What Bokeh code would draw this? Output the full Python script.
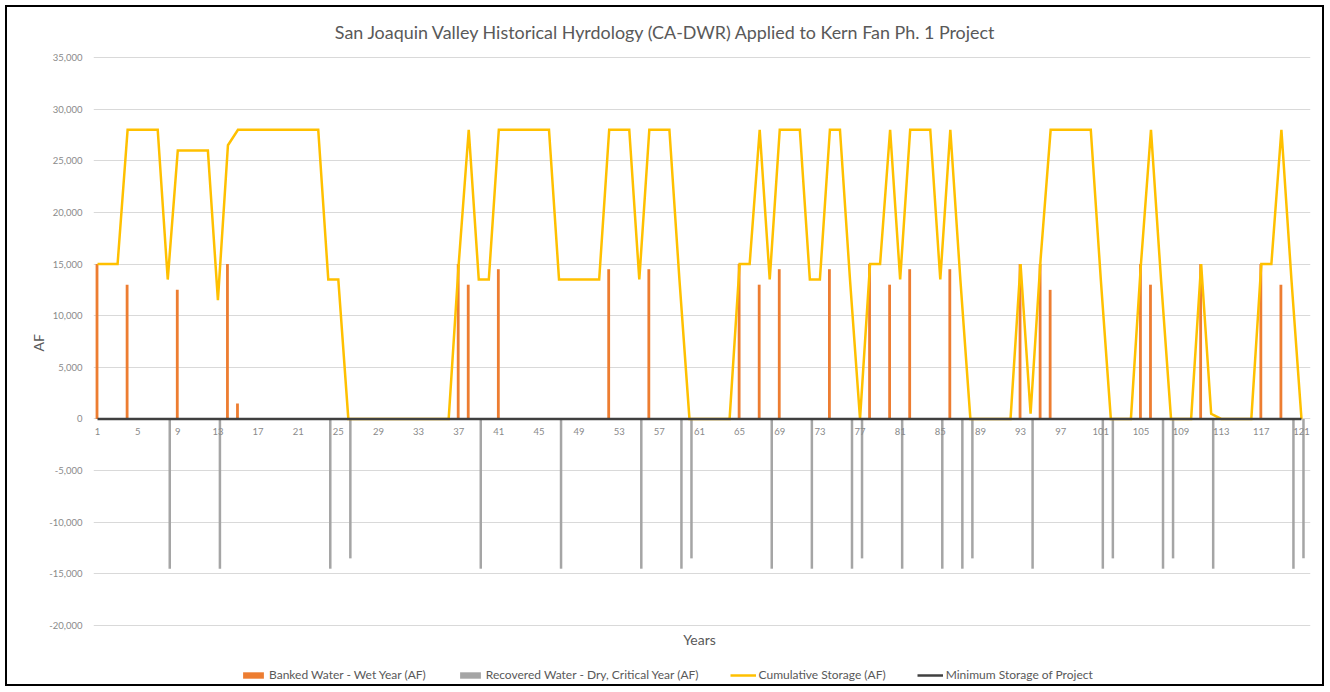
from bokeh.plotting import figure
from bokeh.models import (FixedTicker, NumeralTickFormatter, Legend, LegendItem,
                          ColumnDataSource, Title, Label)
from bokeh.core.properties import value
from bokeh.transform import dodge
from bokeh.embed import file_html
from bokeh.resources import INLINE

# ---------------- data ----------------
years = list(range(1, 122))

banked_years = [1, 4, 9, 14, 15, 37, 38, 41, 52, 56, 65, 67, 69, 74, 78, 80,
                82, 86, 93, 95, 96, 105, 106, 111, 117, 119]
banked_af = [15000, 13000, 12500, 15000, 1500, 15000, 13000, 14500, 14500,
             14500, 15000, 13000, 14500, 14500, 15000, 13000, 14500, 14500,
             15000, 15000, 12500, 15000, 13000, 15000, 15000, 13000]

recovered_years = [8, 13, 24, 26, 39, 47, 55, 59, 60, 68, 72, 76, 77, 81, 85,
                   87, 88, 94, 101, 102, 107, 108, 112, 120, 121]
recovered_af = [-14500, -14500, -14500, -13500, -14500, -14500, -14500,
                -14500, -13500, -14500, -14500, -14500, -13500, -14500,
                -14500, -14500, -13500, -14500, -14500, -13500, -14500,
                -13500, -14500, -14500, -13500]

storage_af = [
    15000, 15000, 15000, 28000, 28000, 28000, 28000, 13500, 26000, 26000,   # 1-10
    26000, 26000, 11500, 26500, 28000, 28000, 28000, 28000, 28000, 28000,   # 11-20
    28000, 28000, 28000, 13500, 13500, 0, 0, 0, 0, 0,                       # 21-30
    0, 0, 0, 0, 0, 0, 15000, 28000, 13500, 13500,                           # 31-40
    28000, 28000, 28000, 28000, 28000, 28000, 13500, 13500, 13500, 13500,   # 41-50
    13500, 28000, 28000, 28000, 13500, 28000, 28000, 28000, 13500, 0,       # 51-60
    0, 0, 0, 0, 15000, 15000, 28000, 13500, 28000, 28000,                   # 61-70
    28000, 13500, 13500, 28000, 28000, 13500, 0, 15000, 15000, 28000,       # 71-80
    13500, 28000, 28000, 28000, 13500, 28000, 13500, 0, 0, 0,               # 81-90
    0, 0, 15000, 500, 15500, 28000, 28000, 28000, 28000, 28000,             # 91-100
    13500, 0, 0, 0, 15000, 28000, 13500, 0, 0, 0,                           # 101-110
    15000, 500, 0, 0, 0, 0, 15000, 15000, 28000, 13500,                     # 111-120
    0,                                                                      # 121
]

min_storage_years = [1, 121]
min_storage_af = [0, 0]

x_tick_years = list(range(1, 122, 4))
x_tick_labels = [str(y) for y in x_tick_years]
y_ticks = list(range(-20000, 35001, 5000))

title_text = "San Joaquin Valley Historical Hyrdology (CA-DWR) Applied to Kern Fan Ph. 1 Project"

# ---------------- figure ----------------
FONT = "Lato"
TXT = "#595959"
TICK = "#8A8A8A"

# the plot frame covers the whole chart height so that the chart title, the
# axis title and the legend can sit above / below the gridded area
p = figure(width=1319, height=681, x_range=(0.6, 121.9), y_range=(-26100, 39840),
           output_backend="svg", toolbar_location=None,
           min_border_left=86, min_border_right=16, min_border_top=0,
           min_border_bottom=0)
p.styles = {"border": "2px solid #000000", "margin": "5px 0 0 5px"}
p.outline_line_color = None
p.background_fill_color = "white"
p.border_fill_color = "white"
p.title.text = ""
p.title.visible = False

# y axis
yax = p.yaxis[0]
yax.ticker = FixedTicker(ticks=y_ticks)
yax.formatter = NumeralTickFormatter(format="0,0")
yax.axis_line_color = None
yax.major_tick_line_color = None
yax.minor_tick_line_color = None
yax.major_tick_out = 0
yax.major_tick_in = 0
yax.major_label_standoff = 11
yax.major_label_text_font = FONT
yax.major_label_text_font_size = "9.5px"
yax.major_label_text_color = TICK

af_title = Title(text="AF", align="left", offset=337, text_font=FONT,
                 text_font_size="14px", text_font_style="normal",
                 text_color=TXT, standoff=0)
p.add_layout(af_title, "left")

p.xaxis.visible = False

# grid
p.xgrid.visible = False
p.ygrid.ticker = FixedTicker(ticks=y_ticks)
p.ygrid.grid_line_color = "#D9D9D9"
p.ygrid.grid_line_width = 1

# ---------------- glyphs ----------------
src_b = ColumnDataSource(dict(year=banked_years, af=banked_af))
src_r = ColumnDataSource(dict(year=recovered_years, af=recovered_af))

r_bank = p.vbar(x=dodge("year", -0.05), top="af", bottom=0, width=0.28,
                source=src_b, fill_color="#ED7D31", line_color=None)
r_rec = p.vbar(x=dodge("year", 0.2), top=0, bottom="af", width=0.25,
               source=src_r, fill_color="#A5A5A5", line_color=None)
r_sto = p.line(years, storage_af, line_color="#FFC000", line_width=2.5,
               line_join="miter")
r_min = p.line(min_storage_years, min_storage_af, line_color="#404040",
               line_width=2.5)

# category labels along the zero line (horizontal axis crosses at 0)
src_t = ColumnDataSource(dict(x=x_tick_years, y=[0] * len(x_tick_years),
                              t=x_tick_labels))
p.text(x="x", y="y", text="t", source=src_t, text_font=value(FONT),
       text_font_size="9.5px", text_color=TICK, text_align="center",
       text_baseline="top", y_offset=9)

# chart title
chart_title = Label(x=57.66, y=37500, text=title_text, text_align="center",
                    text_baseline="middle", text_font=FONT,
                    text_font_size="17.9px", text_color=TXT)
p.add_layout(chart_title)

# horizontal axis title
years_title = Label(x=61, y=-21350, text="Years", text_align="center",
                    text_baseline="middle", text_font=FONT,
                    text_font_size="14px", text_color=TXT)
p.add_layout(years_title)

legend = Legend(items=[
    LegendItem(label="Banked Water - Wet Year (AF)", renderers=[r_bank]),
    LegendItem(label="Recovered Water - Dry, Critical Year (AF)", renderers=[r_rec]),
    LegendItem(label="Cumulative Storage (AF)", renderers=[r_sto]),
    LegendItem(label="Minimum Storage of Project", renderers=[r_min]),
], orientation="horizontal", location=(147, 6))
legend.label_text_font = FONT
legend.label_text_font_size = "12px"
legend.label_text_color = TXT
legend.glyph_width = 26
legend.glyph_height = 8
legend.label_height = 14
legend.label_standoff = 3
legend.spacing = 31
legend.padding = 0
legend.margin = 0
legend.border_line_color = None
legend.background_fill_alpha = 0
p.add_layout(legend, "center")

open("out.html", "w").write(file_html(p, INLINE))
